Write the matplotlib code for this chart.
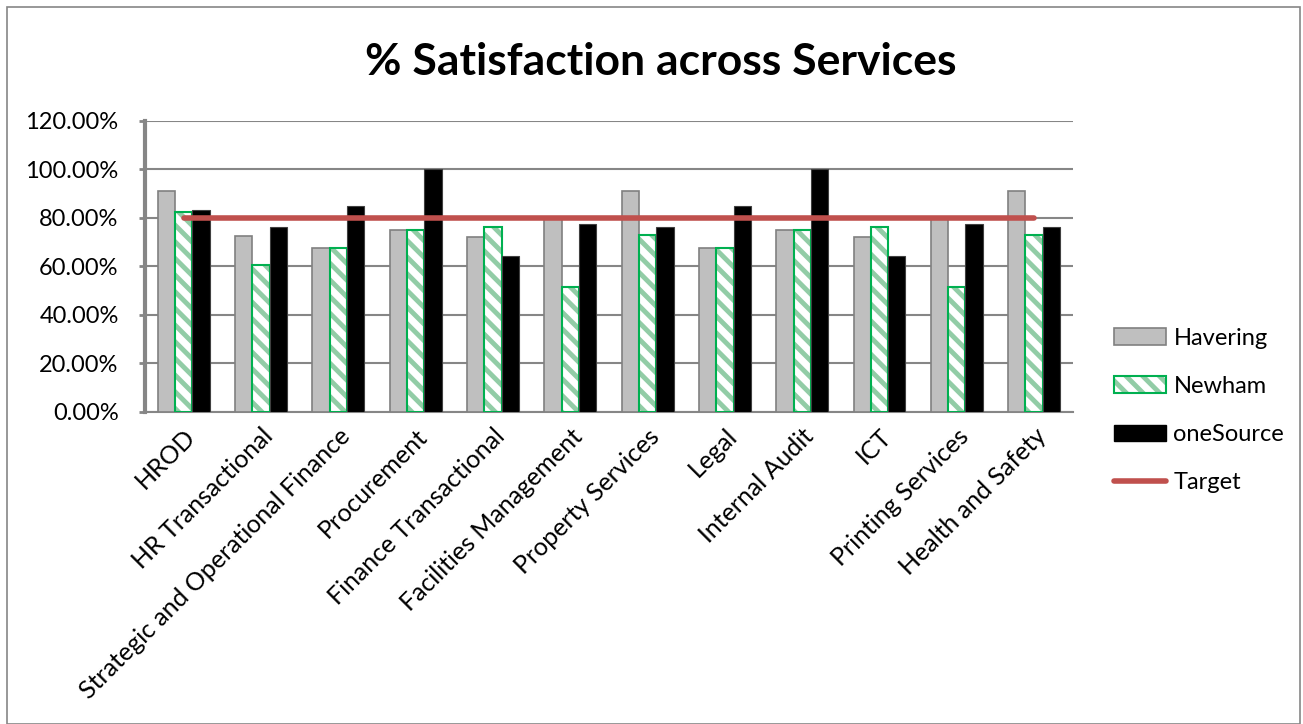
import numpy as np
import matplotlib.pyplot as plt
from matplotlib.patches import Patch, Rectangle
from matplotlib.lines import Line2D

plt.rcParams['font.family'] = ['Lato', 'DejaVu Sans']
plt.rcParams['hatch.linewidth'] = 3.5

services = ['HROD', 'HR Transactional', 'Strategic and Operational Finance', 'Procurement',
            'Finance Transactional', 'Facilities Management', 'Property Services', 'Legal',
            'Internal Audit', 'ICT', 'Printing Services', 'Health and Safety']
havering = [90.9, 72.7, 67.6, 75.0, 72.0, 80.0, 90.9, 67.6, 75.0, 72.0, 80.0, 90.9]
newham = [82.4, 60.7, 67.7, 75.0, 76.2, 51.5, 72.8, 67.7, 75.0, 76.2, 51.5, 72.8]
onesource = [83.3, 76.1, 84.9, 100.0, 64.1, 77.6, 76.1, 84.9, 100.0, 64.1, 77.6, 76.1]
target = [80.0] * 12

x = np.arange(len(services))
w = 0.224

fig = plt.figure(figsize=(13.03, 7.24), dpi=100)
ax = fig.add_axes([0.1113, 0.431, 0.712, 0.402])

ax.bar(x - w, np.array(havering) / 100, w, color='#BFBFBF', edgecolor='#808080', linewidth=1.2, zorder=3)
ax.bar(x, np.array(newham) / 100, w, color='white', edgecolor='#92CCA6', hatch='\\\\', linewidth=0, zorder=3)
ax.bar(x, np.array(newham) / 100, w, fill=False, edgecolor='#00B050', linewidth=1.5, zorder=3)
ax.bar(x + w, np.array(onesource) / 100, w, color='black', edgecolor='#404040', linewidth=0.8, zorder=3)
ax.plot(x, np.array(target) / 100, color='#C0504D', linewidth=4, solid_capstyle='round', zorder=4)

ax.set_xlim(-0.5, len(services) - 0.5)
ax.set_ylim(0, 1.2)
ax.set_yticks(np.arange(0, 1.21, 0.2))
ax.set_yticklabels(['{:.2f}%'.format(v * 100) for v in np.arange(0, 1.21, 0.2)], fontsize=17)
ax.set_xticks(x)
ax.set_xticklabels(services, rotation=45, ha='right', rotation_mode='anchor', fontsize=18)
ax.tick_params(axis='x', length=0, pad=9)
ax.tick_params(axis='y', direction='out', length=4, width=2, color='#868686', pad=15)
ax.grid(axis='y', color='#868686', linewidth=1.5, zorder=0)
ax.set_axisbelow(True)
for s in ['top', 'right']:
    ax.spines[s].set_visible(False)
ax.spines['left'].set_color('#868686')
ax.spines['left'].set_linewidth(3)
ax.spines['bottom'].set_color('#868686')
ax.spines['bottom'].set_linewidth(1.5)

fig.text(0.507, 0.915, '% Satisfaction across Services', ha='center', va='center',
         fontsize=32, fontweight='bold')

h_hav = Patch(facecolor='#BFBFBF', edgecolor='#808080', linewidth=1.2)
h_new = (Patch(facecolor='white', edgecolor='#92CCA6', hatch='\\\\', linewidth=0),
         Patch(fill=False, edgecolor='#00B050', linewidth=1.5))
h_one = Patch(facecolor='black', edgecolor='black')
h_tar = Line2D([0], [0], color='#C0504D', linewidth=4, solid_capstyle='round')
fig.legend([h_hav, h_new, h_one, h_tar], ['Havering', 'Newham', 'oneSource', 'Target'],
           loc='center left', bbox_to_anchor=(0.848, 0.433), frameon=False, fontsize=17,
           handlelength=2.2, handleheight=0.7, labelspacing=1.15, handletextpad=0.3,
           borderaxespad=0)

fig.patches.append(Rectangle((0.005, 0.0), 0.993, 0.99, transform=fig.transFigure,
                             fill=False, edgecolor='#868686', linewidth=1.2))

plt.savefig('out.png', dpi=100)
